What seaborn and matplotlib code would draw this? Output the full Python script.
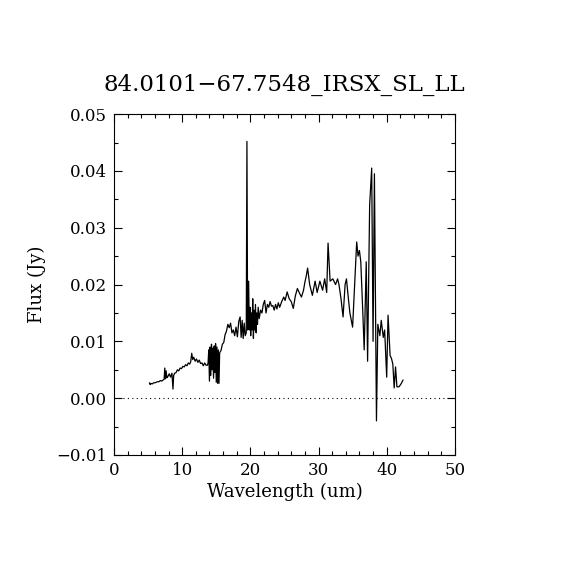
import matplotlib
matplotlib.use("Agg")
import matplotlib.pyplot as plt
import seaborn as sns
import pandas as pd
from matplotlib.ticker import MultipleLocator

title = "84.0101\u221267.7548_IRSX_SL_LL"
xlabel = "Wavelength (um)"
ylabel = "Flux (Jy)"

# Spectrum, in order of wavelength (um) and flux (Jy)
wl_a = [5.2, 5.3, 5.4, 5.6, 5.8, 6.0, 6.2, 6.4, 6.6, 6.8, 7.0, 7.2, 7.35, 7.45, 7.55, 7.65, 7.75]
fx_a = [0.0027, 0.0024, 0.0026, 0.0025, 0.0027, 0.0027, 0.0028, 0.0029, 0.0029, 0.0031, 0.0030,
        0.0032, 0.0033, 0.0053, 0.0034, 0.0048, 0.0036]

wl_b = [7.9, 8.1, 8.3, 8.5, 8.65, 8.75, 8.9, 9.1, 9.3, 9.5, 9.7, 9.9, 10.1, 10.3, 10.5, 10.7,
        10.9, 11.1, 11.25, 11.4, 11.55, 11.7, 11.9, 12.1, 12.3, 12.5, 12.7, 12.9, 13.1, 13.3,
        13.5, 13.7]
fx_b = [0.0038, 0.0043, 0.0037, 0.0044, 0.0016, 0.0040, 0.0044, 0.0045, 0.0050, 0.0048, 0.0053,
        0.0052, 0.0056, 0.0055, 0.0059, 0.0057, 0.0062, 0.0060, 0.0064, 0.0079, 0.0068, 0.0072,
        0.0065, 0.0069, 0.0063, 0.0067, 0.0061, 0.0062, 0.0057, 0.0062, 0.0058, 0.0058]

wl_c = [13.8, 13.9, 14.0, 14.1, 14.2, 14.3, 14.4, 14.5, 14.6, 14.7, 14.8, 14.9, 15.0, 15.1,
        15.2, 15.3, 15.4, 15.5]
fx_c = [0.0062, 0.0085, 0.0030, 0.0090, 0.0040, 0.0095, 0.0050, 0.0088, 0.0035, 0.0092, 0.0045,
        0.0096, 0.0028, 0.0090, 0.0026, 0.0085, 0.0026, 0.0080]

wl_d = [15.7, 15.9, 16.1, 16.3, 16.5, 16.7, 16.9, 17.1, 17.3, 17.5, 17.7, 17.9, 18.1, 18.3,
        18.5, 18.65, 18.8, 18.95, 19.1, 19.25, 19.4]
fx_d = [0.0084, 0.0095, 0.0098, 0.0112, 0.0118, 0.0130, 0.0124, 0.0132, 0.0115, 0.0120, 0.0110,
        0.0125, 0.0108, 0.0135, 0.0143, 0.0107, 0.0137, 0.0105, 0.0132, 0.0110, 0.0115]

wl_e = [19.5, 19.6, 19.75, 19.85, 19.95, 20.05, 20.15, 20.25, 20.35, 20.45, 20.55, 20.65, 20.75,
        20.85, 20.95, 21.05, 21.15, 21.3, 21.5, 21.7]
fx_e = [0.0452, 0.0120, 0.0206, 0.0120, 0.0160, 0.0110, 0.0150, 0.0120, 0.0175, 0.0105, 0.0155,
        0.0120, 0.0165, 0.0115, 0.0150, 0.0130, 0.0160, 0.0140, 0.0155, 0.0150]

wl_f = [21.9, 22.1, 22.3, 22.5, 22.7, 22.9, 23.1, 23.3, 23.5, 23.7, 23.9, 24.1, 24.3, 24.6,
        24.9, 25.1, 25.4, 25.7, 26.0, 26.3, 26.6, 26.9, 27.2, 27.5, 27.8, 28.0, 28.2, 28.4,
        28.7, 29.1, 29.5, 29.8, 30.2, 30.6, 30.9, 31.2, 31.4, 31.7, 32.1, 32.5, 32.8]
fx_f = [0.0165, 0.0172, 0.0150, 0.0165, 0.0160, 0.0170, 0.0162, 0.0163, 0.0155, 0.0165, 0.0157,
        0.0168, 0.0160, 0.0170, 0.0178, 0.0172, 0.0187, 0.0175, 0.0170, 0.0158, 0.0180, 0.0193,
        0.0185, 0.0178, 0.0190, 0.0204, 0.0215, 0.0229, 0.0200, 0.0181, 0.0206, 0.0186, 0.0206,
        0.0190, 0.0210, 0.0186, 0.0273, 0.0206, 0.0210, 0.0200, 0.0210]

wl_g = [33.0, 33.3, 33.6, 33.9, 34.1, 34.3, 34.6, 35.0, 35.3, 35.6, 35.8, 36.0, 36.2, 36.5,
        36.7, 37.0, 37.2, 37.5, 37.8, 38.0, 38.2, 38.5, 38.7, 39.0, 39.2, 39.5, 39.7, 40.0,
        40.2, 40.5, 40.7, 40.9, 41.1, 41.3, 41.5, 41.8, 42.1, 42.4]
fx_g = [0.0200, 0.0175, 0.0143, 0.0200, 0.0210, 0.0185, 0.0150, 0.0125, 0.0200, 0.0275, 0.0250,
        0.0260, 0.0240, 0.0150, 0.0085, 0.0240, 0.0065, 0.0340, 0.0405, 0.0100, 0.0395, -0.0040,
        0.0130, 0.0110, 0.0137, 0.0107, 0.0120, 0.0037, 0.0146, 0.0075, 0.0070, 0.0060, 0.0018,
        0.0055, 0.0020, 0.0020, 0.0025, 0.0032]

wavelength = wl_a + wl_b + wl_c + wl_d + wl_e + wl_f + wl_g
flux = fx_a + fx_b + fx_c + fx_d + fx_e + fx_f + fx_g
n = min(len(wavelength), len(flux))
df = pd.DataFrame({"wavelength": wavelength[:n], "flux": flux[:n]})

sns.set_theme(style="ticks")
plt.rcParams["font.family"] = ["DejaVu Serif", "DejaVu Sans"]
plt.rcParams["axes.unicode_minus"] = True
plt.rcParams["text.color"] = "black"
plt.rcParams["axes.labelcolor"] = "black"
plt.rcParams["xtick.color"] = "black"
plt.rcParams["ytick.color"] = "black"

fig = plt.figure(figsize=(5.7, 5.7), dpi=100)
ax = fig.add_axes([0.2, 0.2018, 0.598, 0.598])

sns.lineplot(data=df, x="wavelength", y="flux", sort=False, estimator=None,
             color="black", linewidth=0.9, ax=ax)
ax.axhline(0.0, color="black", linestyle=(0, (1, 3)), linewidth=0.8)

ax.set_xlim(0, 50)
ax.set_ylim(-0.01, 0.05)
ax.xaxis.set_major_locator(MultipleLocator(10))
ax.xaxis.set_minor_locator(MultipleLocator(2))
ax.yaxis.set_major_locator(MultipleLocator(0.01))
ax.yaxis.set_minor_locator(MultipleLocator(0.005))
ax.xaxis.set_major_formatter(plt.FuncFormatter(lambda v, p: f"{v:.0f}"))
ax.yaxis.set_major_formatter(plt.FuncFormatter(lambda v, p: f"{v:.2f}".replace("-", "\u2212")))
ax.tick_params(which="both", direction="in", top=True, right=True, colors="black",
               labelcolor="black", labelsize=12, width=0.8)
ax.tick_params(which="major", length=6, pad=5)
ax.tick_params(which="minor", length=3)
for s in ax.spines.values():
    s.set_linewidth(0.8)
    s.set_color("black")

ax.set_xlabel(xlabel, fontsize=13, labelpad=3, color="black")
ax.set_ylabel(ylabel, fontsize=13, labelpad=7, color="black")
ax.set_title(title, fontsize=16.5, pad=17, color="black")

fig.savefig("out.png", dpi=100, facecolor="white")
